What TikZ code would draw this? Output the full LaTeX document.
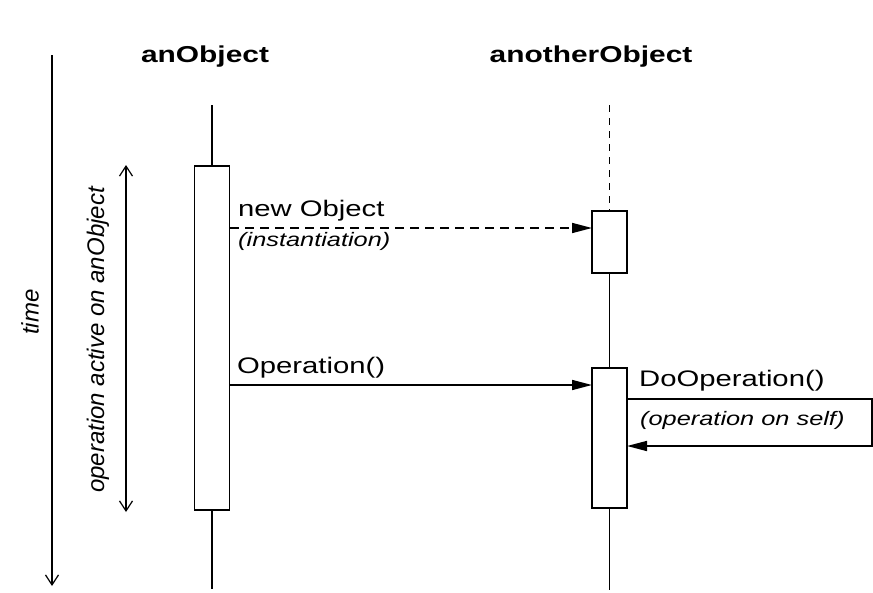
\documentclass[tikz,border=0pt]{standalone}
\usepackage{fontspec}
\setmainfont{Liberation Sans}[FakeStretch=1.3]
\newfontfamily\rotfont{Liberation Sans}
\usetikzlibrary{arrows.meta}
\tikzset{
  life/.style={line width=1.7pt},
  actbox/.style={draw, line width=1.7pt, fill=white, minimum width=35pt, inner sep=0pt},
  msg/.style={line width=1.6pt, -{Triangle[length=20pt,width=10pt]}},
  openarr/.style={line width=1.2pt, -{Straight Barb[length=10pt,width=13pt]}},
  title/.style={font=\fontsize{23}{26}\selectfont\bfseries},
  lbl/.style={font=\fontsize{22.5}{25}\selectfont, anchor=base west, inner sep=0pt},
  ilbl/.style={font=\fontsize{19.5}{22}\selectfont\itshape, anchor=base west, inner sep=0pt},
  rlbl/.style={font=\rotfont\fontsize{24}{26}\selectfont\itshape, rotate=90, inner sep=0pt}
}
\begin{document}
\begin{tikzpicture}[x=1pt,y=-1pt]
\useasboundingbox (0,0) rectangle (873,592);
% time axis
\coordinate (t0) at (52,55);
\coordinate (t1) at (52,586);
\draw[openarr] (t0) -- (t1);
\node[rlbl] (time) at (30,312) {time};
% activity span
\coordinate (s0) at (126,165);
\coordinate (s1) at (126,512);
\draw[openarr, {Straight Barb[length=10pt,width=13pt]}-{Straight Barb[length=10pt,width=13pt]}] (s0) -- (s1);
\node[rlbl] (span) at (98,340) {operation active on anObject};
% titles
\node[title] (objA) at (205,57) {anObject};
\node[title] (objB) at (591,57) {anotherObject};
% lifeline A
\node[actbox, minimum height=344pt] (boxA) at (212,338) {};
\coordinate (a0) at (212,105);
\coordinate (a1) at (212,589);
\draw[life] (a0) -- (boxA.north);
\draw[life] (boxA.south) -- (a1);
% lifeline B
\node[actbox, minimum height=62pt] (boxB1) at (609.5,242) {};
\node[actbox, minimum height=140pt] (boxB2) at (609.5,438) {};
\coordinate (b0) at (609.5,105);
\coordinate (b1) at (609.5,590);
\draw[life, dash pattern=on 7pt off 6pt] (b0) -- (boxB1.north);
\draw[life] (boxB1.south) -- (boxB2.north);
\draw[life] (boxB2.south) -- (b1);
% messages
\coordinate (m1) at (592,228);
\draw[msg, dash pattern=on 9pt off 6pt] (boxA.east |- m1) -- (m1);
\node[lbl] (newobj) at (238,216) {new Object};
\node[ilbl] (inst) at (238,246) {(instantiation)};
\coordinate (m2) at (592,385);
\draw[msg] (boxA.east |- m2) -- (m2);
\node[lbl] (op) at (237,373) {Operation()};
% self call
\coordinate (l0) at (627,399);
\coordinate (l1) at (872,399);
\coordinate (l2) at (872,446);
\coordinate (l3) at (627,446);
\draw[msg] (l0) -- (l1) -- (l2) -- (l3);
\node[lbl] (doop) at (639,386) {DoOperation()};
\node[ilbl] (self) at (640,425) {(operation on self)};
\end{tikzpicture}
\end{document}
